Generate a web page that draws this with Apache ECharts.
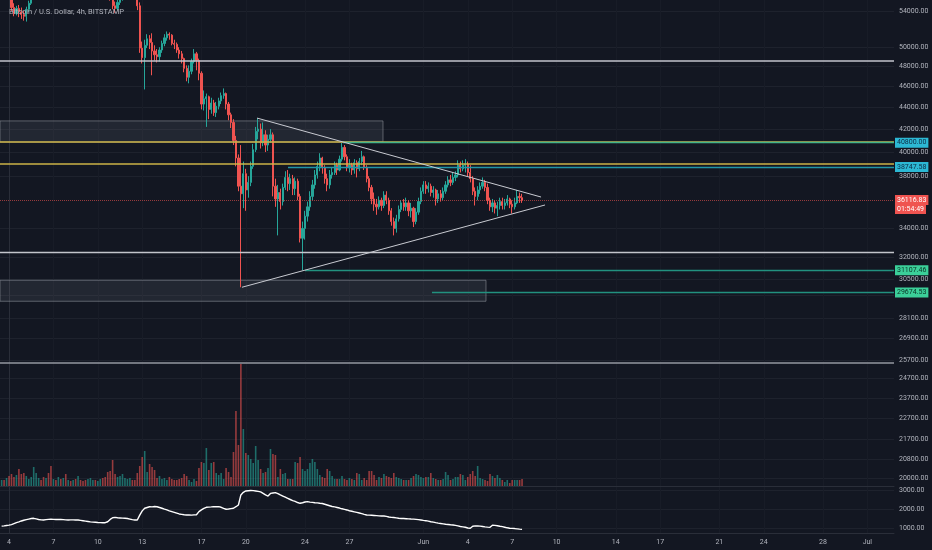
<!DOCTYPE html>
<html>
<head>
<meta charset="utf-8">
<title>Bitcoin / U.S. Dollar, 4h, BITSTAMP</title>
<script src="https://cdn.jsdelivr.net/npm/echarts@6.0.0/dist/echarts.min.js"></script>
<style>
  html, body { margin: 0; padding: 0; background: #131722; }
  #chart { width: 932px; height: 550px; }
</style>
</head>
<body>
<div id="chart"></div>
<script>
// 4h candles, first one is May 3 12:00, last one Jun 7 16:00
var firstOpen = 57000;
var closes = [
    57200, 56900, 57100,
    56500, 54400, 53700, 54300, 53900, 53600,
    53400, 54200, 54900, 55600, 56300, 57000,
    57500, 57100, 56600, 57200, 56800, 56400,
    56900, 56200, 57500, 57100, 57600, 57300,
    58300, 58000, 58800, 58500, 58700, 58200,
    57500, 57000, 57900, 58100, 58300, 58200,
    58900, 59200, 58100, 57300, 55900, 55600,
    54600, 54300, 55000, 55600, 56100, 56500,
    56700, 56800, 56400, 56200, 54600, 49900,
    48900, 50200, 50900, 50500, 49600, 49200,
    49000, 49700, 50400, 51000, 51400, 51300,
    50400, 50300, 49700, 49300, 48800, 47800,
    46900, 47500, 48500, 49300, 48600, 47300,
    44300, 44800, 45000, 43800, 44400, 43500,
    44100, 44600, 45100, 45300, 44300, 43300,
    42600, 41000, 39500, 37200, 36600, 38200,
    36900, 37500, 38800, 40200, 41800, 42000,
    40800, 41500, 40600, 41100, 41500, 37200,
    36200, 36700, 36000, 37100, 37900, 37400,
    37800, 37000, 37600, 36400, 33300, 34000,
    34900, 35600, 36400, 37300, 38100, 38800,
    39500, 38700, 37800, 37300, 38100, 38300,
    38900, 38500, 39400, 40400, 39600, 38700,
    38900, 38500, 39100, 38600, 39200, 39600,
    38700, 37800, 37100, 36200, 35800, 35600,
    36100, 35700, 36500, 36100, 35300, 34500,
    34000, 34700, 35400, 35900, 35600, 35900,
    35300, 35500, 34500, 35200, 36000, 36800,
    37300, 37000, 37200, 36700, 36900, 36200,
    36600, 36300, 36800, 37300, 37700, 37500,
    37900, 38100, 38900, 38600, 38900, 39000,
    38300, 37800, 36800, 36400, 36900, 37200,
    37500, 37100, 36100, 35600, 35900, 35500,
    35700, 36000, 35700, 35900, 36200, 35800,
    35600, 35900, 36400, 36300, 36116.83
];
var highs = [
    57600, 57400, 57300,
    57200, 56800, 54900, 54600, 54700, 54400,
    54000, 54500, 55200, 56000, 56800, 57400,
    57900, 57800, 57300, 57600, 57500, 57000,
    57200, 57000, 57900, 58200, 57900, 57900,
    58500, 58700, 59300, 59500, 59000, 58900,
    58500, 57800, 58100, 58500, 58700, 58600,
    59300, 59600, 59400, 58300, 57500, 56800,
    55800, 55100, 55300, 55900, 56400, 56900,
    57200, 57500, 57000, 56800, 56500, 55000,
    50600, 50800, 51400, 51300, 51500, 50200,
    49800, 50000, 50700, 51400, 51700, 51600,
    51400, 50800, 50500, 50000, 49600, 48900,
    48100, 48100, 48800, 49800, 49500, 48800,
    47500, 45600, 45300, 45100, 44900, 44700,
    44500, 44900, 45400, 45800, 45400, 44500,
    43500, 42900, 41400, 39800, 40600, 39200,
    38600, 38000, 39200, 40700, 42200, 43000,
    42500, 42600, 41900, 41500, 42000, 41700,
    37800, 37300, 37000, 37400, 38400, 38500,
    38200, 38100, 37900, 37800, 36600, 34500,
    35300, 36000, 36800, 37700, 38500, 39200,
    39900, 39600, 38900, 38200, 38500, 38700,
    39200, 39100, 39700, 40800, 40600, 39800,
    39400, 39100, 39400, 39300, 39500, 40100,
    39700, 38900, 38000, 37300, 36700, 36200,
    36400, 36300, 36800, 36800, 36300, 35500,
    34800, 35000, 35700, 36100, 36200, 36300,
    36100, 35900, 35600, 35500, 36300, 37100,
    37600, 37600, 37500, 37400, 37200, 37000,
    36900, 36900, 37100, 37600, 38000, 38100,
    38300, 38400, 39300, 39200, 39300, 39400,
    39200, 38900, 38000, 37100, 37200, 37500,
    37900, 37700, 37400, 36300, 36200, 36100,
    36000, 36300, 36300, 36200, 36500, 36300,
    36100, 36300, 36900, 36700, 36600
];
var lows = [
    56800, 56500, 56600,
    56300, 54000, 53400, 53500, 53300, 53100,
    52900, 52800, 53900, 54700, 55300, 56000,
    56800, 56700, 56200, 56300, 56400, 56000,
    56100, 55900, 56100, 56800, 56900, 57000,
    57200, 57700, 57900, 58200, 58100, 57800,
    57100, 56300, 56800, 57500, 57600, 57800,
    58000, 58600, 57900, 56600, 55600, 55200,
    54200, 53800, 54100, 54700, 55200, 55800,
    56100, 56300, 55900, 55700, 54100, 49400,
    48300, 45700, 49900, 49800, 47100, 48600,
    48400, 48500, 49400, 50100, 50700, 50800,
    50200, 49800, 49400, 48800, 48300, 47400,
    46500, 46300, 47200, 48300, 47600, 46600,
    43800, 43700, 42200, 42900, 43400, 43200,
    43100, 43800, 44300, 44800, 43800, 42800,
    42100, 40600, 38800, 36800, 30000, 35500,
    35300, 36300, 37200, 38600, 40000, 41100,
    40300, 40500, 40000, 40100, 40800, 36400,
    35600, 33500, 35400, 35700, 36900, 36800,
    36900, 36500, 36500, 36100, 33000, 31100,
    33200, 34500, 35300, 36100, 37000, 37800,
    38400, 38200, 37400, 36800, 37000, 37800,
    38100, 38100, 38400, 39200, 39300, 38400,
    38300, 38100, 38200, 37900, 38400, 38900,
    38500, 37500, 36800, 35800, 35300, 35000,
    35400, 35300, 35500, 35800, 35000, 34200,
    33500, 33700, 34500, 35200, 35300, 35300,
    34900, 34800, 34100, 34300, 35000, 35800,
    36600, 36600, 36700, 36400, 36300, 35700,
    35900, 36000, 36100, 36600, 37100, 37200,
    37300, 37600, 37900, 38300, 38400, 38300,
    38000, 37500, 36500, 35700, 36100, 36600,
    37000, 36800, 35800, 35300, 35200, 35100,
    34900, 35400, 35400, 35400, 35700, 35500,
    35100, 35400, 35800, 35900, 35900
];
var volumes = [
    600, 600, 800,
    1000, 1200, 900, 1100, 1700, 1200,
    1300, 1000, 700, 900, 1900, 1300,
    800, 600, 900, 800, 1300, 2000,
    700, 600, 900, 700, 800, 1200,
    600, 500, 600, 700, 1000, 600,
    500, 600, 700, 800, 600, 600,
    500, 700, 800, 900, 1400, 1500,
    2600, 1200, 900, 1000, 1200, 800,
    700, 800, 600, 600, 1300, 2000,
    2900, 3500, 1400, 2200, 1900, 1600,
    800, 1000, 700, 800, 600, 900,
    700, 600, 600, 700, 800, 1200,
    1000, 600, 400, 700, 500, 1800,
    2400, 2300, 3800, 1600, 2300, 2400,
    1300, 1100, 1300, 700, 1800, 1400,
    900, 3400, 7500, 4100, 12200, 5700,
    3300, 3100, 2700, 2300, 4000, 2600,
    1700, 1300, 1400, 1800, 3700, 3200,
    3100, 900, 1700, 1200, 1300, 700,
    700, 700, 2400, 2300, 2900, 1700,
    1500, 1700, 2300, 2700, 2400, 1700,
    1100, 900, 800, 1700, 1500, 1000,
    700, 700, 700, 1000, 700, 600,
    800, 700, 600, 1300, 1200, 600,
    800, 600, 1500, 1500, 1100, 600,
    900, 800, 1200, 1000, 900, 800,
    1300, 900, 800, 700, 600, 600,
    600, 800, 1000, 1200, 1100, 900,
    800, 900, 900, 1300, 800, 700,
    600, 600, 700, 1400, 1100, 600,
    700, 900, 900, 1200, 1100, 600,
    900, 1200, 1500, 1000, 2000, 800,
    700, 600, 500, 1200, 1000, 800,
    1100, 800, 600, 400, 600, 300,
    600, 600, 600, 600, 700
];
// lower pane line
var indicator = [
    1100, 1110, 1130,
    1150, 1180, 1230, 1280, 1320, 1370,
    1410, 1440, 1470, 1500, 1510, 1480,
    1450, 1430, 1420, 1440, 1455, 1460,
    1455, 1450, 1455, 1450, 1440, 1430,
    1420, 1425, 1430, 1420, 1420, 1400,
    1380, 1360, 1340, 1320, 1310, 1300,
    1290, 1285, 1280, 1280, 1330, 1450,
    1540, 1560, 1540, 1530, 1520, 1510,
    1500, 1470, 1440, 1420, 1420, 1680,
    1900, 2040, 2080, 2120, 2110, 2130,
    2120, 2080, 2040, 1990, 1950, 1900,
    1860, 1820, 1780, 1740, 1720, 1700,
    1685, 1690, 1680, 1690, 1700, 1860,
    1950, 2030, 2090, 2100, 2110, 2125,
    2120, 2125, 2090, 2030, 1985, 2000,
    2020, 2040, 2120, 2210, 2740, 2880,
    2950, 2960, 2970, 2965, 2950, 2930,
    2900, 2820, 2740, 2680, 2820, 2840,
    2860, 2810, 2740, 2680, 2620, 2560,
    2500, 2440, 2400, 2340, 2300, 2330,
    2370, 2390, 2360, 2350, 2330, 2320,
    2300, 2290, 2250, 2210, 2170, 2130,
    2110, 2080, 2050, 2010, 1980, 1950,
    1910, 1880, 1850, 1820, 1790, 1760,
    1720, 1685, 1680, 1670, 1660, 1650,
    1640, 1630, 1630, 1610, 1580, 1560,
    1550, 1530, 1510, 1500, 1500, 1490,
    1480, 1470, 1465, 1455, 1440, 1420,
    1400, 1385, 1360, 1330, 1310, 1280,
    1255, 1240, 1220, 1200, 1185, 1170,
    1160, 1140, 1110, 1080, 1060, 1040,
    1000, 985, 1090, 1110, 1105, 1100,
    1080, 1060, 1045, 1035, 1150, 1140,
    1120, 1090, 1070, 1040, 1010, 990,
    980, 970, 955, 940, 930
];

// price scale and time scale labels (x is days since May 4)
var priceTicks = [54000, 50000, 48000, 46000, 44000, 42000, 40000, 38000, 34000, 32000,
    30500, 29500, 28100, 26900, 25700, 24700, 23700, 22700, 21700, 20800, 20000];
var lowerTicks = [1000, 2000, 3000];
var dateTicks = [0, 3, 6, 9, 13, 16, 20, 23, 28, 31, 34, 37, 41, 44, 48, 51, 55, 58];
var dateLabels = ['4', '7', '10', '13', '17', '20', '24', '27', 'Jun', '4', '7', '10', '14', '17', '21', '24', '28', 'Jul'];

var xMin = -0.61, xMax = 59.8;
var up = '#26a69a', down = '#ef5350';
var font = 'Roboto, "Liberation Sans", sans-serif';
var textColor = '#b2b5be';
var gridColor = '#1e222d';
var yellow = '#cdb347';

var candles = [], vols = [], line = [];
for (var i = 0; i < closes.length; i++) {
    var x = (i - 3) / 6;
    var open = i === 0 ? firstOpen : closes[i - 1];
    candles.push([x, open, closes[i], lows[i], highs[i]]);
    vols.push({
        value: [x, volumes[i]],
        itemStyle: { color: closes[i] >= open ? 'rgba(38,166,154,0.6)' : 'rgba(239,83,80,0.6)' }
    });
    line.push([x, indicator[i]]);
}

function tag(text, bg, fg) {
    return {
        show: true, position: 'end', distance: 1, formatter: text,
        backgroundColor: bg, color: fg, fontSize: 7, fontFamily: font,
        padding: [1, 2, 1, 2], lineHeight: 8
    };
}
// horizontal drawing from x0 to the right edge
function ray(x0, y, color, width, label) {
    return [
        { coord: [x0, y], lineStyle: { color: color, width: width, type: 'solid' }, label: label || { show: false } },
        { coord: [xMax, y] }
    ];
}

var myChart = echarts.init(document.getElementById('chart'));
var option = {
    animation: false,
    backgroundColor: '#131722',
    title: {
        text: 'Bitcoin / U.S. Dollar, 4h, BITSTAMP',
        left: 4, top: 3,
        textStyle: { color: textColor, fontSize: 7.5, fontWeight: 'normal', fontFamily: font }
    },
    grid: [
        { left: 0, top: 0, width: 894, height: 486, outerBoundsMode: 'none' },
        { left: 0, top: 356, width: 894, height: 130, outerBoundsMode: 'none' },
        { left: 0, top: 486, width: 894, height: 47, outerBoundsMode: 'none' }
    ],
    xAxis: [
        {
            type: 'value', gridIndex: 0, min: xMin, max: xMax,
            axisLabel: { show: false },
            axisTick: { show: false, customValues: dateTicks },
            axisLine: { show: true, onZero: false, lineStyle: { color: '#2a2e39' } },
            splitLine: { show: true, lineStyle: { color: '#181c27' } }
        },
        { type: 'value', gridIndex: 1, min: xMin, max: xMax, show: false },
        {
            type: 'value', gridIndex: 2, min: xMin, max: xMax,
            axisLabel: {
                customValues: dateTicks, color: textColor, fontSize: 7, fontFamily: font, margin: 6,
                formatter: function (v) { return dateLabels[dateTicks.indexOf(v)]; }
            },
            axisTick: { show: false, customValues: dateTicks },
            axisLine: { show: true, onZero: false, lineStyle: { color: '#2a2e39' } },
            splitLine: { show: true, lineStyle: { color: '#181c27' } }
        }
    ],
    yAxis: [
        {
            type: 'log', logBase: 10, gridIndex: 0, position: 'right', min: 19655, max: 55280,
            axisLabel: {
                customValues: priceTicks, color: textColor, fontSize: 7, fontFamily: font, margin: 5,
                formatter: function (v) { return v.toFixed(2); }
            },
            axisTick: { show: false, customValues: priceTicks },
            axisLine: { show: true, lineStyle: { color: '#2a2e39' } },
            splitLine: { show: true, lineStyle: { color: gridColor } }
        },
        { type: 'value', gridIndex: 1, min: 0, max: 13000, show: false },
        {
            type: 'value', gridIndex: 2, position: 'right', min: 737, max: 3210,
            axisLabel: {
                customValues: lowerTicks, color: textColor, fontSize: 7, fontFamily: font, margin: 5,
                formatter: function (v) { return v.toFixed(2); }
            },
            axisTick: { show: false, customValues: lowerTicks },
            axisLine: { show: true, lineStyle: { color: '#2a2e39' } },
            splitLine: { show: true, lineStyle: { color: gridColor } }
        }
    ],
    series: [
        {
            name: 'volume', type: 'bar', xAxisIndex: 1, yAxisIndex: 1,
            barWidth: 1.6, data: vols, silent: true
        },
        {
            name: 'BTCUSD', type: 'candlestick', xAxisIndex: 0, yAxisIndex: 0,
            encode: { x: 0, y: [1, 2, 3, 4] },
            barWidth: 1.7,
            data: candles,
            itemStyle: { color: up, color0: down, borderColor: up, borderColor0: down, borderWidth: 1 },
            markArea: {
                silent: true,
                itemStyle: { color: 'rgba(120,123,134,0.16)', borderColor: 'rgba(150,153,162,0.55)', borderWidth: 1 },
                data: [
                    [{ coord: [xMin, 42740] }, { coord: [25.27, 40860] }],
                    [{ coord: [xMin, 30450] }, { coord: [32.23, 29120] }]
                ]
            },
            markLine: {
                silent: true, symbol: ['none', 'none'], animation: false,
                label: { show: false },
                data: [
                    { yAxis: 48580, lineStyle: { color: '#c3c5cc', width: 1.6, type: 'solid' } },
                    ray(xMin, 40850, yellow, 1.5),
                    ray(22.57, 40800, '#43b48a', 1.3, tag('40800.00', '#2cb8d4', '#0d2c45')),
                    ray(xMin, 39040, yellow, 1.5),
                    ray(18.85, 38747.58, '#2196a8', 1.3, tag('38747.58', '#2cb8d4', '#0d2c45')),
                    { yAxis: 36116.83, lineStyle: { color: 'rgba(239,83,80,0.6)', width: 1, type: 'dotted' },
                      label: tag('36116.83', '#ef5350', '#ffffff') },
                    // countdown box sits right under the last price tag
                    { yAxis: 35435, lineStyle: { color: 'rgba(0,0,0,0)', width: 1 }, label: tag('01:54:49', '#ef5350', '#ffffff') },
                    { yAxis: 32290, lineStyle: { color: '#c3c5cc', width: 1.4, type: 'solid' } },
                    ray(20.0, 31107.46, '#22917f', 1.3, tag('31107.46', '#3bcf99', '#0b3326')),
                    ray(28.58, 29674.53, '#22917f', 1.3, tag('29674.53', '#3bcf99', '#0b3326')),
                    { yAxis: 25550, lineStyle: { color: '#9598a1', width: 1.6, type: 'solid' } },
                    [{ coord: [16.76, 43000], lineStyle: { color: '#c8cad1', width: 1, type: 'solid' } }, { coord: [35.95, 36350] }],
                    [{ coord: [15.74, 30000], lineStyle: { color: '#c8cad1', width: 1, type: 'solid' } }, { coord: [36.22, 35740] }]
                ]
            }
        },
        {
            name: 'lower', type: 'line', xAxisIndex: 2, yAxisIndex: 2,
            data: line, showSymbol: false, silent: true,
            lineStyle: { color: '#ffffff', width: 1.4 }
        }
    ]
};
myChart.setOption(option, true);
</script>
</body>
</html>
